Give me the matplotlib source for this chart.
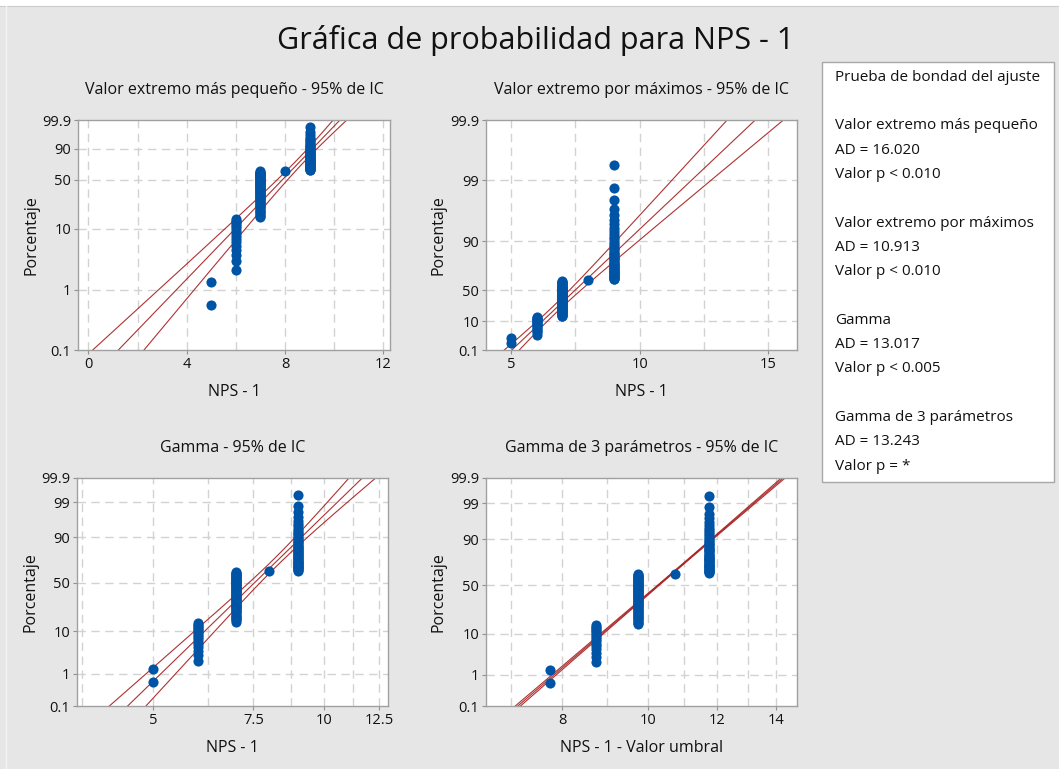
import numpy as np
import matplotlib
matplotlib.use("Agg")
import matplotlib.pyplot as plt
from matplotlib.patches import Rectangle
from matplotlib.lines import Line2D
from statistics import NormalDist

# ---------------- data ----------------
nps_values = [5, 6, 7, 8, 9]          # NPS - 1 observed values
nps_counts = [2, 16, 59, 1, 46]       # number of observations at each value

# fitted distributions
sev_loc, sev_scale = 8.265, 1.02              # smallest extreme value
lev_loc, lev_scale = 7.10, 1.07               # largest extreme value
gam_shape, gam_scale = 43.0, 0.1765           # gamma
g3_shape, g3_scale, g3_thresh = 80.0, 0.1291, -2.74   # 3-parameter gamma
gam_ci = (0.020, 0.0197, 0.536)               # CI half-width params (log units)
g3_ci = (0.002, 0.0018, 0.5)

titles = ["Valor extremo más pequeño - 95% de IC",
          "Valor extremo por máximos - 95% de IC",
          "Gamma - 95% de IC",
          "Gamma de 3 parámetros - 95% de IC"]
xlabels = ["NPS - 1", "NPS - 1", "NPS - 1", "NPS - 1 - Valor umbral"]
yticks_sev = [0.1, 1, 10, 50, 90, 99.9]
yticks_lev = [0.1, 10, 50, 90, 99, 99.9]
yticks_gam = [0.1, 1, 10, 50, 90, 99, 99.9]
xticks_1 = [0, 4, 8, 12]
xticks_2 = [5, 10, 15]
xticks_3 = [5, 7.5, 10, 12.5]
xticks_4 = [8, 10, 12, 14]
xgrid_1 = [0, 2, 4, 6, 8, 10, 12]
xgrid_2 = [5, 7.5, 10, 12.5, 15]
xgrid_3 = [3.75, 5, 6.25, 7.5, 8.75, 10, 11.25, 12.5]
xgrid_4 = [7, 8, 9, 10, 11, 12, 13, 14]

legend_lines = ["Prueba de bondad del ajuste", "",
                "Valor extremo más pequeño", "AD = 16.020", "Valor p < 0.010", "",
                "Valor extremo por máximos", "AD = 10.913", "Valor p < 0.010", "",
                "Gamma", "AD = 13.017", "Valor p < 0.005", "",
                "Gamma de 3 parámetros", "AD = 13.243", "Valor p = *"]

# ---------------- helpers ----------------
_nd = NormalDist()
_ppf = np.vectorize(lambda q: _nd.inv_cdf(min(max(q, 1e-12), 1 - 1e-12)), otypes=[float])
_cdf = np.vectorize(lambda z: _nd.cdf(z), otypes=[float])


def _clip_p(p):
    p = np.asarray(p, dtype=float) / 100.0
    return np.clip(p, 1e-12, 1 - 1e-12)


def sev_fwd(p):
    return np.log(-np.log(1 - _clip_p(p)))


def sev_inv(y):
    return 100 * (1 - np.exp(-np.exp(np.asarray(y, dtype=float))))


def lev_fwd(p):
    return -np.log(-np.log(_clip_p(p)))


def lev_inv(y):
    return 100 * np.exp(-np.exp(-np.asarray(y, dtype=float)))


def gam_funcs(k):
    a = 1 / (3 * np.sqrt(k))
    c = 1 - 1 / (9 * k)

    def fwd(p):
        z = _ppf(_clip_p(p))
        return 3 * np.log(np.maximum(c + a * z, 1e-9))

    def inv(y):
        z = (np.exp(np.asarray(y, dtype=float) / 3) - c) / a
        return 100 * _cdf(z)

    def z_of(y):
        return (np.exp(np.asarray(y, dtype=float) / 3) - c) / a

    return fwd, inv, z_of


W, H = 1059, 769
BG = "#E6E6E6"
TXT = "#111111"
LINE = "#A51C1C"
DOT = "#0054A6"
GRID = "#D2D2D2"
SPINE = "#A0A0A0"
FONT = "Open Sans"
plt.rcParams["font.family"] = [FONT, "DejaVu Sans"]

fig = plt.figure(figsize=(W / 100, H / 100), dpi=100, facecolor=BG)


def fx(px):
    return px / W


def fy(py):
    return 1 - py / H


# top white strip
fig.patches.append(Rectangle((0, fy(6)), 1, 6 / H, transform=fig.transFigure,
                             facecolor="white", edgecolor="none", zorder=0))
fig.lines.append(Line2D([0, 1], [fy(6), fy(6)], transform=fig.transFigure,
                        color="#CCCCCC", lw=0.8))
fig.lines.append(Line2D([fx(6), fx(6)], [0, fy(6)], transform=fig.transFigure,
                        color="#F4F4F4", lw=1.0))

fig.text(fx(536), fy(40), "Gráfica de probabilidad para NPS - 1", ha="center",
         va="center", fontsize=22, color=TXT)

# observations and median ranks
obs = np.repeat(nps_values, nps_counts).astype(float)
n = obs.size
ranks = np.arange(1, n + 1)
pct = (ranks - 0.3) / (n + 0.4) * 100

boxes = [(78.3, 390.0, 120.0, 350.0), (486.0, 796.7, 120.0, 350.0),
         (77.3, 388.3, 477.7, 706.0), (486.0, 796.7, 477.7, 706.0)]


def make_ax(i):
    l, r, t, b = boxes[i]
    ax = fig.add_axes([fx(l), fy(b), (r - l) / W, (b - t) / H])
    ax.set_facecolor("white")
    for s in ax.spines.values():
        s.set_color(SPINE)
        s.set_linewidth(1.0)
    ax.tick_params(which="both", direction="out", length=3, width=0.8,
                   color="#909090", labelsize=10.5, labelcolor=TXT, pad=2)
    ax.tick_params(which="minor", length=0)
    fig.text((fx(l) + fx(r)) / 2, fy(t - 30), titles[i], ha="center", va="center",
             fontsize=11.5, color=TXT)
    fig.text((fx(l) + fx(r)) / 2, fy(b + 42), xlabels[i], ha="center", va="center",
             fontsize=11.5, color=TXT)
    fig.text(fx(l - 47), (fy(t) + fy(b)) / 2, "Porcentaje", ha="center", va="center",
             rotation=90, fontsize=11.5, color=TXT)
    return ax


def finish_y(ax, fwd, inv, ticks):
    ax.set_yscale("function", functions=(fwd, inv))
    ax.set_ylim(0.1, 99.9)
    ax.set_yticks(ticks)
    ax.set_yticklabels([("%g" % t) for t in ticks])
    ax.yaxis.set_minor_locator(matplotlib.ticker.NullLocator())


def gridlines(ax, xs, ys, xlim):
    for x in xs:
        if xlim[0] < x < xlim[1]:
            ax.axvline(x, color=GRID, lw=1.0, ls=(0, (6, 4)), zorder=0.5)
    for y in ys:
        if 0.1 < y < 99.9:
            ax.axhline(y, color=GRID, lw=1.0, ls=(0, (6, 4)), zorder=0.5)


def draw_lines(ax, xm, xl, xh, p):
    for xx in (xl, xm, xh):
        ax.plot(xx, p, color=LINE, lw=0.8, alpha=0.9, zorder=2)


def dots(ax, x):
    ax.plot(x, pct, "o", ms=7.3, color=DOT, mec="none", zorder=3, clip_on=False)


# ---- panel 1: smallest extreme value ----
ax = make_ax(0)
xlim = (-0.41, 12.27)
finish_y(ax, sev_fwd, sev_inv, yticks_sev)
ax.set_xlim(*xlim)
ax.set_xticks(xticks_1)
gridlines(ax, xgrid_1, yticks_sev, xlim)
yy = np.linspace(sev_fwd(0.05), sev_fwd(99.97), 300)
xm = sev_loc + sev_scale * yy
hw = 1.96 * sev_scale / np.sqrt(n) * np.sqrt(1.1087 + 0.6079 * yy ** 2 - 0.514 * yy)
draw_lines(ax, xm, xm - hw, xm + hw, sev_inv(yy))
dots(ax, obs)

# ---- panel 2: largest extreme value ----
ax = make_ax(1)
xlim = (4.03, 16.10)
finish_y(ax, lev_fwd, lev_inv, yticks_lev)
ax.set_xlim(*xlim)
ax.set_xticks(xticks_2)
gridlines(ax, xgrid_2, yticks_lev, xlim)
yy = np.linspace(lev_fwd(0.05), lev_fwd(99.97), 300)
xm = lev_loc + lev_scale * yy
hw = 1.96 * lev_scale / np.sqrt(n) * np.sqrt(1.1087 + 0.6079 * yy ** 2 + 0.514 * yy)
draw_lines(ax, xm, xm - hw, xm + hw, lev_inv(yy))
dots(ax, obs)


# ---- panels 3 and 4: gamma ----
def gamma_panel(i, k, theta, thresh, ci, xlim, xticks, xgrid):
    ax = make_ax(i)
    fwd, inv, z_of = gam_funcs(k)
    ax.set_xscale("log")
    finish_y(ax, fwd, inv, yticks_gam)
    ax.set_xlim(*xlim)
    ax.set_xticks(xticks)
    ax.set_xticklabels([("%g" % t) for t in xticks])
    ax.xaxis.set_minor_locator(matplotlib.ticker.NullLocator())
    gridlines(ax, xgrid, yticks_gam, xlim)
    yy = np.linspace(fwd(0.05), fwd(99.97), 300)
    lnx = np.log(theta * k) + yy
    z = z_of(yy)
    h0, b, z0 = ci
    hw = np.sqrt(h0 ** 2 + (b * (z - z0)) ** 2)
    draw_lines(ax, np.exp(lnx), np.exp(lnx - hw), np.exp(lnx + hw), inv(yy))
    dots(ax, obs - thresh)
    return ax


gamma_panel(2, gam_shape, gam_scale, 0.0, gam_ci, (3.672, 12.96), xticks_3, xgrid_3)
gamma_panel(3, g3_shape, g3_scale, g3_thresh, g3_ci, (6.552, 14.77), xticks_4, xgrid_4)

# ---------------- legend box ----------------
fig.patches.append(Rectangle((fx(821.7), fy(482.3)), (1054 - 821.7) / W, (482.3 - 62.3) / H,
                             transform=fig.transFigure, facecolor="white",
                             edgecolor="#A8A8A8", lw=1.0, zorder=1))
for j, s in enumerate(legend_lines):
    if s:
        fig.text(fx(835), fy(77.3 + 24.3 * j), s, ha="left", va="center",
                 fontsize=11, color=TXT, zorder=2)

fig.savefig("out.png", dpi=100, facecolor=BG)
